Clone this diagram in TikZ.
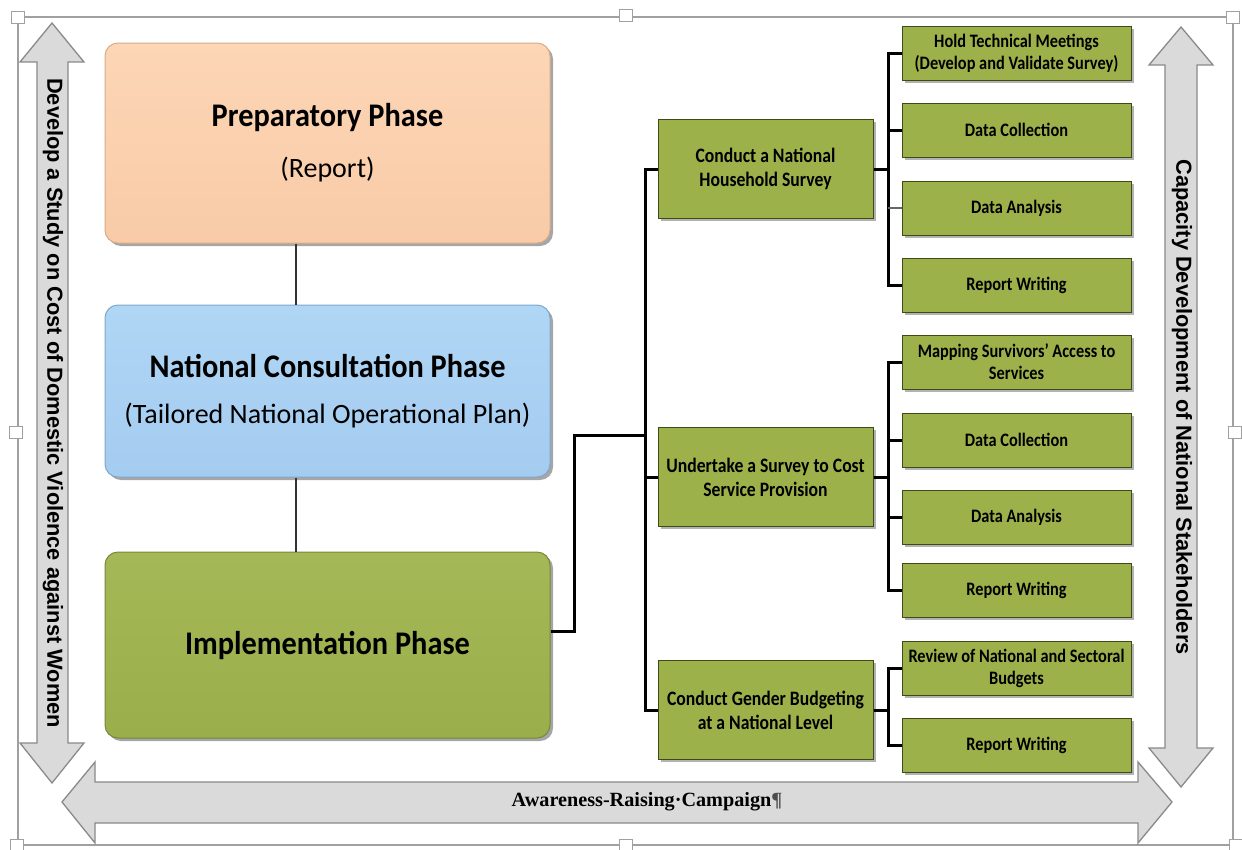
\documentclass[tikz,border=0pt]{standalone}
\usepackage{fontspec}
\setmainfont{Carlito}
\newfontfamily\condf[FakeStretch=0.86]{Carlito}
\newfontfamily\bigf[FakeStretch=0.92]{Carlito}
\newfontfamily\arialf{Liberation Sans}
\newfontfamily\timesf{Liberation Serif}
\usetikzlibrary{shadows}
\newcommand{\phtitle}{\bigf\bfseries\fontsize{33}{36}\selectfont}
\newcommand{\phsub}{\mdseries\fontsize{28}{32}\selectfont}
\definecolor{peachtop}{HTML}{FCD6B6}
\definecolor{peachbot}{HTML}{F9CBA7}
\definecolor{peachedge}{HTML}{D9AC88}
\definecolor{bluetop}{HTML}{B0D6F5}
\definecolor{bluebot}{HTML}{A4CCF0}
\definecolor{blueedge}{HTML}{7FA8CC}
\definecolor{olivetop}{HTML}{A5B857}
\definecolor{olivebot}{HTML}{9AAE4B}
\definecolor{oliveedge}{HTML}{76883A}
\definecolor{leaffill}{HTML}{9DB14B}
\definecolor{leafedge}{HTML}{3E4A1A}
\definecolor{arrowfill}{HTML}{DADADA}
\definecolor{arrowedge}{HTML}{8A8A8A}
\definecolor{framegray}{HTML}{A0A0A0}
\tikzset{
  frameline/.style={draw=framegray, line width=1.3pt},
  handle/.style={draw=framegray, fill=white, line width=0.9pt, minimum width=13pt, minimum height=12pt, inner sep=0pt},
  bigarrow/.style={draw=arrowedge, fill=arrowfill, line width=1.3pt, line join=miter},
  phase/.style={rounded corners=13pt, minimum width=445pt, align=center, inner sep=0pt, line width=1pt,
     drop shadow={shadow xshift=3pt, shadow yshift=-3pt, opacity=0.35, fill=black}},
  leaf/.style={draw=leafedge, fill=leaffill, line width=1pt, minimum width=229pt, minimum height=54pt,
     align=center, inner sep=1pt, font=\condf\bfseries\fontsize{19}{22}\selectfont,
     drop shadow={shadow xshift=2.5pt, shadow yshift=-2.5pt, opacity=0.3, fill=black}},
  midbox/.style={leaf, minimum width=215pt, minimum height=99pt, font=\condf\bfseries\fontsize{20.5}{24}\selectfont},
  tree/.style={draw=black, line width=3pt},
  thinlink/.style={draw=black!80, line width=1.8pt},
  sidetext/.style={font=\arialf\bfseries\fontsize{21.8}{24}\selectfont, rotate=-90, inner sep=0pt},
}
\begin{document}
\begin{tikzpicture}[x=1pt,y=-1pt]
\useasboundingbox (0,0) rectangle (1242,849);
\fill[white] (0,0) rectangle (1242,849);

% frame with handles
\draw[frameline] (18,17) rectangle (1233,845);
\node[handle] (h1) at (18,17) {};
\node[handle] (h2) at (626,15) {};
\node[handle] (h3) at (1233,17) {};
\node[handle] (h4) at (16,432) {};
\node[handle] (h5) at (1235,432) {};
\node[handle] (h6) at (17,845) {};
\node[handle] (h7) at (626,845) {};
\node[handle] (h8) at (1236,845) {};

% side arrows
\draw[bigarrow] (52,23) -- (84,62) -- (68,62) -- (68,743) -- (84,743) -- (52,783) -- (20,743) -- (37,743) -- (37,62) -- (20,62) -- cycle;
\node[sidetext] (dev) at (53,403) {Develop a Study on Cost of Domestic Violence against Women};

\draw[bigarrow] (1181,27) -- (1213,65) -- (1197,65) -- (1197,748) -- (1213,748) -- (1181,787) -- (1149,748) -- (1165,748) -- (1165,65) -- (1149,65) -- cycle;
\node[sidetext] (cap) at (1182,407) {Capacity Development of National Stakeholders};

\draw[bigarrow] (62,802) -- (95,762) -- (95,782) -- (1138,782) -- (1138,762) -- (1172,802) -- (1138,843) -- (1138,823) -- (95,823) -- (95,843) -- cycle;
\node[font=\timesf\bfseries\fontsize{20.2}{22}\selectfont, inner sep=0pt] (aw) at (647,802) {Awareness-Raising·Campaign\textcolor{black!70}{¶}};

% phases
\node[phase, minimum height=200pt, draw=peachedge, top color=peachtop, bottom color=peachbot] (prep) at (327.5,143)
  {{\phtitle Preparatory Phase}\\[24pt]{\phsub (Report)}};
\node[phase, minimum height=172pt, draw=blueedge, top color=bluetop, bottom color=bluebot] (cons) at (327.5,391)
  {{\phtitle National Consultation Phase}\\[24pt]{\phsub (Tailored National Operational Plan)}};
\node[phase, minimum height=186pt, draw=oliveedge, top color=olivetop, bottom color=olivebot] (impl) at (327.5,645)
  {\phtitle Implementation Phase};

\draw[thinlink] ([xshift=-31.5pt]prep.south) -- ([xshift=-31.5pt]cons.north);
\draw[thinlink] ([xshift=-31.5pt]cons.south) -- ([xshift=-31.5pt]impl.north);

% middle boxes
\node[midbox] (m1) at (765.5,169) {Conduct a National\\Household Survey};
\node[midbox] (m2) at (765.5,477) {Undertake a Survey to Cost\\Service Provision};
\node[midbox] (m3) at (765.5,710) {Conduct Gender Budgeting\\at a National Level};

% leaves
\node[leaf] (a1) at (1016.5,53) {Hold Technical Meetings\\(Develop and Validate Survey)};
\node[leaf] (a2) at (1016.5,130) {Data Collection};
\node[leaf] (a3) at (1016.5,208) {Data Analysis};
\node[leaf] (a4) at (1016.5,285) {Report Writing};
\node[leaf] (b1) at (1016.5,362) {Mapping Survivors’ Access to\\Services};
\node[leaf] (b2) at (1016.5,440) {Data Collection};
\node[leaf] (b3) at (1016.5,517) {Data Analysis};
\node[leaf] (b4) at (1016.5,590) {Report Writing};
\node[leaf] (c1) at (1016.5,668) {Review of National and Sectoral\\Budgets};
\node[leaf] (c2) at (1016.5,745) {Report Writing};

% tree connectors
\coordinate (tr) at (645,0);
\coordinate (st) at (888,0);
\draw[tree] ([yshift=14pt]impl.east) -- ++(24,0) |- (tr |- 0,435);
\draw[tree] (m1.west) -- (tr |- m1.west) -- (tr |- m3.west) -- (m3.west);
\draw[tree] (m2.west) -- (tr |- m2.west);

\draw[tree] (m1.east) -- (st |- m1.east);
\draw[tree] (a1.west) -- (st |- a1.west) -- (st |- a4.west) -- (a4.west);
\draw[tree] (a2.west) -- (st |- a2.west);
\draw[draw=black!60, line width=1.2pt] (a3.west) -- (st |- a3.west);

\draw[tree] (m2.east) -- (st |- m2.east);
\draw[tree] (b1.west) -- (st |- b1.west) -- (st |- b4.west) -- (b4.west);
\draw[tree] (b2.west) -- (st |- b2.west);
\draw[tree] (b3.west) -- (st |- b3.west);

\draw[tree] (m3.east) -- (st |- m3.east);
\draw[tree] (c1.west) -- (st |- c1.west) -- (st |- c2.west) -- (c2.west);
\end{tikzpicture}
\end{document}
